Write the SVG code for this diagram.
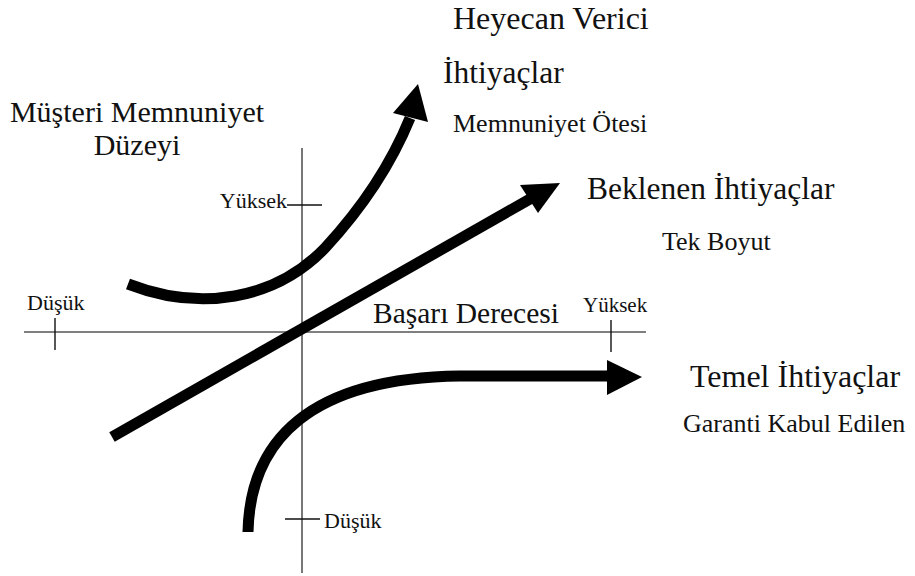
<svg xmlns="http://www.w3.org/2000/svg" width="915" height="576" viewBox="0 0 915 576">
<style>
text{font-family:"Liberation Serif","Times New Roman","DejaVu Serif",serif;fill:#111}
.ax{stroke:#555;stroke-width:1.6;fill:none}
.tk{stroke:#111;stroke-width:1.4;fill:none}
.cv{stroke:#000;stroke-width:11;fill:none}
.hd{fill:#000}
</style>
<rect width="915" height="576" fill="#fff"/>
<g id="axes">
<line class="ax" x1="302" y1="148" x2="302" y2="573"/>
<line class="ax" x1="24" y1="332" x2="646" y2="332"/>
<line class="tk" x1="287" y1="205" x2="322" y2="205"/>
<line class="tk" x1="55" y1="318" x2="55" y2="350"/>
<line class="tk" x1="611" y1="320" x2="611" y2="352"/>
<line class="tk" x1="285" y1="519" x2="320" y2="519"/>
</g>
<g id="axis-labels">
<text x="137" y="122" font-size="30" text-anchor="middle">Müşteri Memnuniyet</text>
<text x="137" y="155" font-size="30" text-anchor="middle">Düzeyi</text>
<text x="287" y="208" font-size="22" text-anchor="end">Yüksek</text>
<text x="27" y="310" font-size="22">Düşük</text>
<text x="583" y="312" font-size="21">Yüksek</text>
<text x="324" y="528" font-size="22">Düşük</text>
<text x="373" y="323" font-size="29.5">Başarı Derecesi</text>
</g>
<g id="connectors">
<path class="cv" d="M128,284 C200,312 275,300 325,248 C362,208 392,162 410,118"/>
<polygon class="hd" points="418,84 393,113 428,122"/>
<line class="cv" x1="112" y1="437" x2="530" y2="199"/>
<polygon class="hd" points="560,183 520,185 538,213"/>
<path class="cv" d="M248,532 C250,440 310,378 460,376 L610,376"/>
<polygon class="hd" points="642,377 607,360 607,395"/>
</g>
<g id="excitement">
<text x="453" y="29" font-size="32">Heyecan Verici</text>
<text x="443" y="83" font-size="31.5">İhtiyaçlar</text>
<text x="453" y="132" font-size="26">Memnuniyet Ötesi</text>
</g>
<g id="performance">
<text x="587" y="199" font-size="31.5">Beklenen İhtiyaçlar</text>
<text x="662" y="250" font-size="26">Tek Boyut</text>
</g>
<g id="basic">
<text x="690" y="387" font-size="32">Temel İhtiyaçlar</text>
<text x="683" y="432" font-size="26">Garanti Kabul Edilen</text>
</g>
</svg>
